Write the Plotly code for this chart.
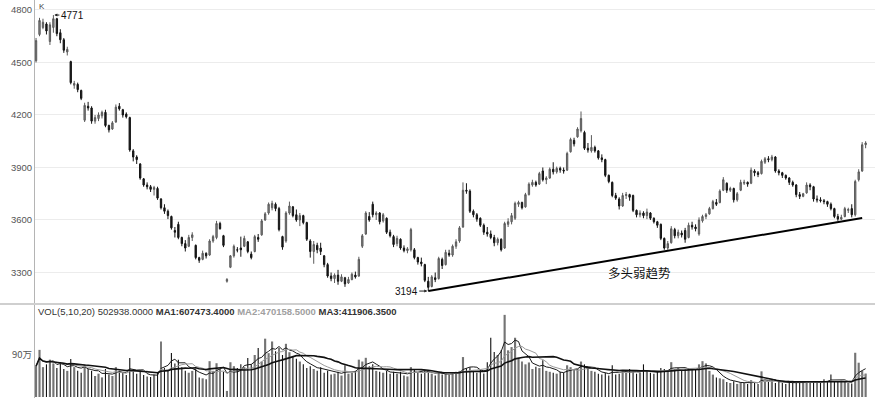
import plotly.graph_objects as go
import pandas as pd

opens = [
    4510, 4660, 4700, 4720, 4620, 4700, 4750, 4670, 4630, 4560,
    4505, 4370, 4375, 4340, 4170, 4250, 4240, 4165, 4180, 4195,
    4215, 4140, 4120, 4160, 4250, 4230, 4205, 4185, 3995, 3960,
    3920, 3835, 3800, 3790, 3775, 3780, 3720, 3670, 3650, 3620,
    3540, 3575, 3500, 3465, 3450, 3500, 3455, 3385, 3375, 3410,
    3400, 3480, 3500, 3580, 3510, 3250, 3330, 3395, 3430, 3440,
    3450, 3475, 3405, 3420, 3500, 3515, 3600, 3640, 3670, 3690,
    3665, 3505, 3480, 3640, 3675, 3630, 3600, 3625, 3585, 3480,
    3420, 3455, 3440, 3395, 3345, 3280, 3265, 3285, 3250, 3270,
    3240, 3260, 3285, 3280, 3450, 3520, 3620, 3690, 3630, 3640,
    3595, 3610, 3530, 3505, 3465, 3490, 3440, 3425, 3430, 3430,
    3385, 3360, 3345, 3250, 3220, 3270, 3265, 3375, 3345, 3410,
    3400, 3450, 3480, 3560, 3770, 3765, 3650, 3630, 3610, 3570,
    3530, 3520, 3500, 3470, 3490, 3440, 3575, 3590, 3610, 3690,
    3700, 3675, 3745, 3800, 3815, 3805, 3880, 3830, 3840, 3890,
    3875, 3895, 3885, 3885, 3990, 4055, 4075, 4110, 4100, 4010,
    3995, 4015, 3995, 3955, 3945, 3855, 3815, 3740, 3720, 3680,
    3740, 3745, 3740, 3655, 3630, 3640, 3625, 3640, 3610, 3590,
    3575, 3495, 3440, 3470, 3545, 3510, 3525, 3540, 3500, 3570,
    3560, 3520, 3595, 3620, 3635, 3665, 3700, 3700, 3770, 3810,
    3770, 3780, 3715, 3770, 3810, 3815, 3810, 3880, 3870, 3865,
    3930, 3950, 3945, 3960, 3880, 3870, 3855, 3840, 3815, 3800,
    3745, 3735, 3755, 3800, 3790, 3720, 3715, 3710, 3705, 3690,
    3665, 3620, 3605, 3620, 3655, 3665, 3630, 3830, 3880, 4030,
]
highs = [
    4640, 4755, 4750, 4730, 4730, 4771, 4755, 4690, 4640, 4590,
    4510, 4395, 4385, 4345, 4270, 4275, 4250, 4200, 4215, 4225,
    4230, 4145, 4165, 4260, 4268, 4235, 4215, 4190, 4005, 3970,
    3925, 3840, 3815, 3800, 3795, 3790, 3725, 3690, 3660, 3625,
    3560, 3590, 3505, 3485, 3515, 3530, 3460, 3390, 3425, 3415,
    3490, 3515, 3595, 3590, 3515, 3268, 3400, 3460, 3445, 3505,
    3510, 3480, 3420, 3515, 3520, 3605, 3645, 3700, 3710, 3700,
    3675, 3510, 3650, 3705, 3680, 3660, 3640, 3630, 3590, 3490,
    3480, 3470, 3470, 3400, 3355, 3300, 3295, 3315, 3290, 3275,
    3275, 3300, 3305, 3390, 3520, 3650, 3645, 3705, 3650, 3645,
    3640, 3615, 3545, 3515, 3510, 3495, 3455, 3445, 3555, 3440,
    3390, 3385, 3350, 3275, 3285, 3300, 3390, 3385, 3430, 3430,
    3460, 3490, 3565, 3815, 3810, 3775, 3660, 3640, 3615, 3580,
    3560, 3540, 3515, 3500, 3495, 3590, 3610, 3640, 3705, 3710,
    3705, 3755, 3815, 3830, 3825, 3875, 3900, 3850, 3900, 3930,
    3905, 3905, 3900, 3990, 4070, 4070, 4130, 4220, 4110, 4040,
    4085, 4025, 4000, 3975, 3950, 3860, 3820, 3755, 3730, 3755,
    3760, 3750, 3745, 3660, 3655, 3650, 3665, 3645, 3615, 3595,
    3580, 3500, 3480, 3565, 3555, 3545, 3540, 3555, 3585, 3590,
    3575, 3615, 3630, 3640, 3675, 3715, 3720, 3775, 3845, 3815,
    3790, 3785, 3760, 3830, 3830, 3820, 3900, 3890, 3880, 3945,
    3960, 3965, 3972, 3965, 3890, 3875, 3860, 3845, 3825, 3805,
    3760, 3755, 3815, 3810, 3795, 3740, 3730, 3720, 3710, 3700,
    3670, 3635, 3630, 3675, 3670, 3690, 3830, 3890, 4045, 4050,
]
lows = [
    4500, 4650, 4690, 4660, 4600, 4670, 4650, 4610, 4555, 4540,
    4375, 4350, 4330, 4285, 4160, 4225, 4150, 4150, 4165, 4180,
    4130, 4100, 4115, 4155, 4225, 4185, 4180, 3990, 3935, 3920,
    3830, 3790, 3775, 3760, 3740, 3715, 3660, 3635, 3605, 3545,
    3500, 3490, 3450, 3420, 3445, 3480, 3375, 3355, 3370, 3380,
    3395, 3470, 3490, 3545, 3445, 3242, 3325, 3385, 3415, 3390,
    3445, 3410, 3375, 3415, 3475, 3510, 3595, 3630, 3655, 3650,
    3535, 3430, 3470, 3630, 3615, 3590, 3565, 3575, 3480, 3385,
    3350, 3410, 3400, 3330, 3270, 3250, 3240, 3230, 3245, 3218,
    3235, 3255, 3265, 3275, 3440, 3515, 3590, 3615, 3600, 3575,
    3585, 3520, 3500, 3445, 3450, 3430, 3415, 3410, 3420, 3375,
    3345, 3335, 3245, 3194, 3215, 3245, 3260, 3320, 3340, 3390,
    3390, 3435, 3470, 3555, 3750, 3640, 3615, 3590, 3560, 3515,
    3505, 3490, 3450, 3455, 3420, 3435, 3560, 3575, 3600, 3675,
    3660, 3670, 3740, 3790, 3790, 3800, 3820, 3805, 3835, 3860,
    3865, 3870, 3865, 3880, 3985, 4020, 4070, 4100, 4000, 3985,
    3985, 3985, 3945, 3930, 3845, 3810, 3730, 3715, 3660, 3675,
    3720, 3710, 3645, 3615, 3615, 3610, 3605, 3600, 3580, 3555,
    3485, 3430, 3430, 3465, 3495, 3495, 3500, 3470, 3495, 3545,
    3535, 3510, 3585, 3605, 3630, 3660, 3680, 3695, 3765, 3755,
    3760, 3700, 3705, 3765, 3800, 3790, 3805, 3850, 3845, 3860,
    3920, 3930, 3935, 3870, 3855, 3840, 3830, 3800, 3790, 3730,
    3720, 3730, 3750, 3770, 3705, 3700, 3700, 3690, 3675, 3655,
    3610, 3595, 3600, 3615, 3640, 3615, 3620, 3820, 3875, 4010,
]
closes = [
    4625, 4740, 4730, 4680, 4715, 4750, 4665, 4630, 4570, 4575,
    4385, 4380, 4345, 4295, 4255, 4240, 4165, 4185, 4200, 4215,
    4140, 4115, 4155, 4245, 4235, 4200, 4190, 4000, 3960, 3945,
    3840, 3800, 3790, 3775, 3785, 3725, 3670, 3650, 3625, 3555,
    3530, 3500, 3465, 3440, 3500, 3515, 3385, 3370, 3410, 3395,
    3480, 3505, 3580, 3550, 3455, 3260, 3395, 3450, 3428, 3430,
    3495, 3420, 3385, 3505, 3490, 3595, 3635, 3690, 3695, 3665,
    3545, 3445, 3640, 3680, 3625, 3600, 3625, 3585, 3490, 3420,
    3460, 3430, 3420, 3345, 3280, 3265, 3285, 3250, 3275, 3235,
    3260, 3290, 3275, 3375, 3510, 3640, 3600, 3630, 3640, 3590,
    3630, 3530, 3510, 3460, 3495, 3440, 3425, 3435, 3545, 3385,
    3360, 3350, 3255, 3215, 3275, 3260, 3380, 3340, 3415, 3400,
    3450, 3475, 3555, 3770, 3765, 3650, 3630, 3605, 3570, 3530,
    3520, 3500, 3470, 3490, 3430, 3580, 3590, 3625, 3695, 3700,
    3670, 3745, 3805, 3815, 3800, 3865, 3830, 3840, 3890, 3875,
    3895, 3885, 3880, 3980, 4060, 4035, 4120, 4180, 4010, 4000,
    4015, 3995, 3955, 3945, 3855, 3820, 3740, 3725, 3680, 3740,
    3745, 3730, 3655, 3630, 3640, 3625, 3645, 3610, 3590, 3570,
    3495, 3440, 3465, 3550, 3510, 3530, 3515, 3490, 3570, 3560,
    3550, 3600, 3620, 3630, 3665, 3705, 3690, 3765, 3830, 3770,
    3780, 3715, 3750, 3815, 3815, 3805, 3885, 3870, 3860, 3935,
    3950, 3945, 3960, 3880, 3870, 3855, 3840, 3815, 3800, 3745,
    3735, 3750, 3800, 3790, 3720, 3715, 3710, 3705, 3690, 3665,
    3620, 3605, 3615, 3665, 3660, 3630, 3820, 3875, 4030, 4040,
]
volumes_k = [
    660, 1010, 640, 700, 800, 720, 620, 746, 600, 560,
    812, 640, 560, 520, 700, 600, 560, 450, 500, 420,
    600, 480, 450, 640, 560, 520, 470, 834, 560, 500,
    540, 470, 440, 430, 480, 520, 1190, 620, 580, 944,
    720, 800, 640, 560, 520, 560, 600, 420, 400, 380,
    768, 560, 724, 600, 540, 130, 745, 660, 620, 700,
    640, 834, 700, 900, 1050, 760, 1250, 940, 1190, 980,
    1050, 900, 1140, 960, 880, 820, 760, 700, 620, 660,
    600, 560, 640, 520, 560, 480, 500, 540, 460, 680,
    500, 520, 560, 800, 760, 840, 660, 700, 560, 540,
    520, 560, 500, 540, 500, 540, 460, 440, 640, 600,
    520, 500, 560, 540, 500, 460, 540, 480, 500, 470,
    520, 540, 560, 856, 615, 637, 560, 520, 580, 505,
    746, 1270, 966, 900, 1000, 1760, 1000, 1070, 1270, 840,
    760, 700, 740, 600, 650, 620, 790, 560, 540, 520,
    500, 540, 520, 680, 640, 580, 600, 760, 700, 600,
    560, 540, 500, 480, 520, 460, 680, 480, 500, 560,
    520, 600, 540, 500, 520, 700, 560, 520, 500, 540,
    620, 600, 560, 746, 600, 620, 580, 600, 620, 580,
    600, 700, 768, 720, 560, 480, 420, 400, 380, 320,
    300, 340, 280, 320, 300, 280, 360, 300, 280, 550,
    340, 320, 360, 300, 320, 300, 280, 340, 300, 320,
    300, 340, 320, 300, 340, 320, 300, 380, 340, 480,
    340, 320, 360, 340, 300, 290, 948, 735, 561, 502.938,
]
volumes = [v * 1000 for v in volumes_k]

price_ticks = [3300, 3600, 3900, 4200, 4500, 4800]
vol_ticks = [900000]
vol_tick_labels = ["90万"]

trend_x = [113, 238]
trend_y = [3194, 3611]

peak_idx, peak_val = 5, 4771
low_idx, low_val = 113, 3194

header = ('VOL(5,10,20) 502938.0000 <b>MA1:607473.4000</b> '
          '<b><span style="color:#a0a0a0">MA2:470158.5000</span></b> '
          '<b>MA3:411906.3500</b>')

n = len(closes)
idx = list(range(n))

W, H = 875, 398
L = 35
PW = W - L
split_px = 304
split = (H - split_px) / H


def px_x(p):
    return (p - L) / PW


def px_y(p):
    return (H - p) / H


fig = go.Figure()

fig.add_trace(go.Candlestick(
    x=idx, open=opens, high=highs, low=lows, close=closes,
    increasing=dict(line=dict(color='#5a5a5a', width=1), fillcolor='#858585'),
    decreasing=dict(line=dict(color='#151515', width=1), fillcolor='#151515'),
    whiskerwidth=0, xaxis='x', yaxis='y', showlegend=False, hoverinfo='skip'))

fig.add_trace(go.Scatter(
    x=trend_x, y=trend_y, mode='lines', line=dict(color='#000000', width=2),
    xaxis='x', yaxis='y', showlegend=False, hoverinfo='skip'))

up_i = [i for i in idx if closes[i] >= opens[i]]
dn_i = [i for i in idx if closes[i] < opens[i]]
fig.add_trace(go.Bar(
    x=up_i, y=[volumes[i] for i in up_i], width=0.62,
    marker=dict(color='#747474', line=dict(width=0)),
    xaxis='x', yaxis='y2', showlegend=False, hoverinfo='skip'))
fig.add_trace(go.Bar(
    x=dn_i, y=[volumes[i] for i in dn_i], width=0.32,
    marker=dict(color='#111111', line=dict(width=0)),
    xaxis='x', yaxis='y2', showlegend=False, hoverinfo='skip'))

vs = pd.Series(volumes)
for win, col, wd in [(5, '#1a1a1a', 1), (10, '#9a9a9a', 1), (20, '#111111', 1.6)]:
    ma = vs.rolling(win, min_periods=1).mean()
    fig.add_trace(go.Scatter(
        x=idx, y=ma.tolist(), mode='lines', line=dict(color=col, width=wd),
        xaxis='x', yaxis='y2', showlegend=False, hoverinfo='skip'))

font_family = 'Liberation Sans, Arial, sans-serif'

fig.update_layout(
    width=W, height=H,
    margin=dict(l=L, r=0, t=0, b=0, autoexpand=False),
    paper_bgcolor='white', plot_bgcolor='white',
    barmode='overlay', boxgap=0.45, hovermode=False,
    font=dict(family=font_family, size=10, color='#444444'),
    xaxis=dict(domain=[0, 1], range=[-0.3, n + 1.7], anchor='y2',
               showticklabels=False, showgrid=False, zeroline=False,
               showline=False, ticks='', rangeslider=dict(visible=False),
               automargin=False, fixedrange=True),
    yaxis=dict(domain=[split, 1], range=[3120, 4857], tickvals=price_ticks,
               ticktext=[str(t) for t in price_ticks],
               showgrid=True, gridcolor='#ececec', gridwidth=1,
               zeroline=False, showline=True, linecolor='#b4b4b4', linewidth=1,
               ticks='', tickfont=dict(size=9.5, color='#555555'),
               automargin=False, anchor='x', fixedrange=True),
    yaxis2=dict(domain=[0, split], range=[-21400, 1993000], tickvals=vol_ticks,
                ticktext=vol_tick_labels, showgrid=False, zeroline=False,
                showline=True, linecolor='#b4b4b4', linewidth=1, ticks='',
                tickfont=dict(size=9.5, color='#555555',
                              family='Noto Sans CJK SC, ' + font_family),
                automargin=False, anchor='x', fixedrange=True),
    shapes=[dict(type='line', xref='paper', yref='paper',
                 x0=px_x(0), x1=1, y0=split, y1=split,
                 line=dict(color='#cfcfcf', width=2))],
    annotations=[
        dict(text='K', xref='paper', yref='paper', x=px_x(37), y=1,
             xanchor='left', yanchor='top', showarrow=False,
             font=dict(size=8, color='#444444')),
        dict(text='4771', xref='x', yref='y', x=peak_idx, y=peak_val,
             showarrow=True, ax=19, ay=0, arrowhead=2, arrowsize=0.6,
             arrowwidth=1, arrowcolor='#222222', standoff=1,
             font=dict(size=10, color='#111111')),
        dict(text='3194', xref='x', yref='y', x=low_idx, y=low_val,
             showarrow=True, ax=-22, ay=0, arrowhead=2, arrowsize=0.6,
             arrowwidth=1, arrowcolor='#222222', standoff=1,
             font=dict(size=10, color='#111111')),
        dict(text='多头弱趋势', xref='paper', yref='paper', x=px_x(606),
             y=px_y(261), xanchor='left', yanchor='top', showarrow=False,
             font=dict(size=12.5, color='#111111',
                       family='Noto Sans CJK SC, ' + font_family)),
        dict(text=header, xref='paper', yref='paper', x=px_x(36), y=px_y(311),
             xanchor='left', yanchor='middle', showarrow=False,
             font=dict(size=9.5, color='#333333')),
    ],
)

fig.write_html('out.html',
               config={'displayModeBar': False, 'staticPlot': True},
               post_script="document.body.style.margin='0px';"
                           "document.body.style.overflow='hidden';")
